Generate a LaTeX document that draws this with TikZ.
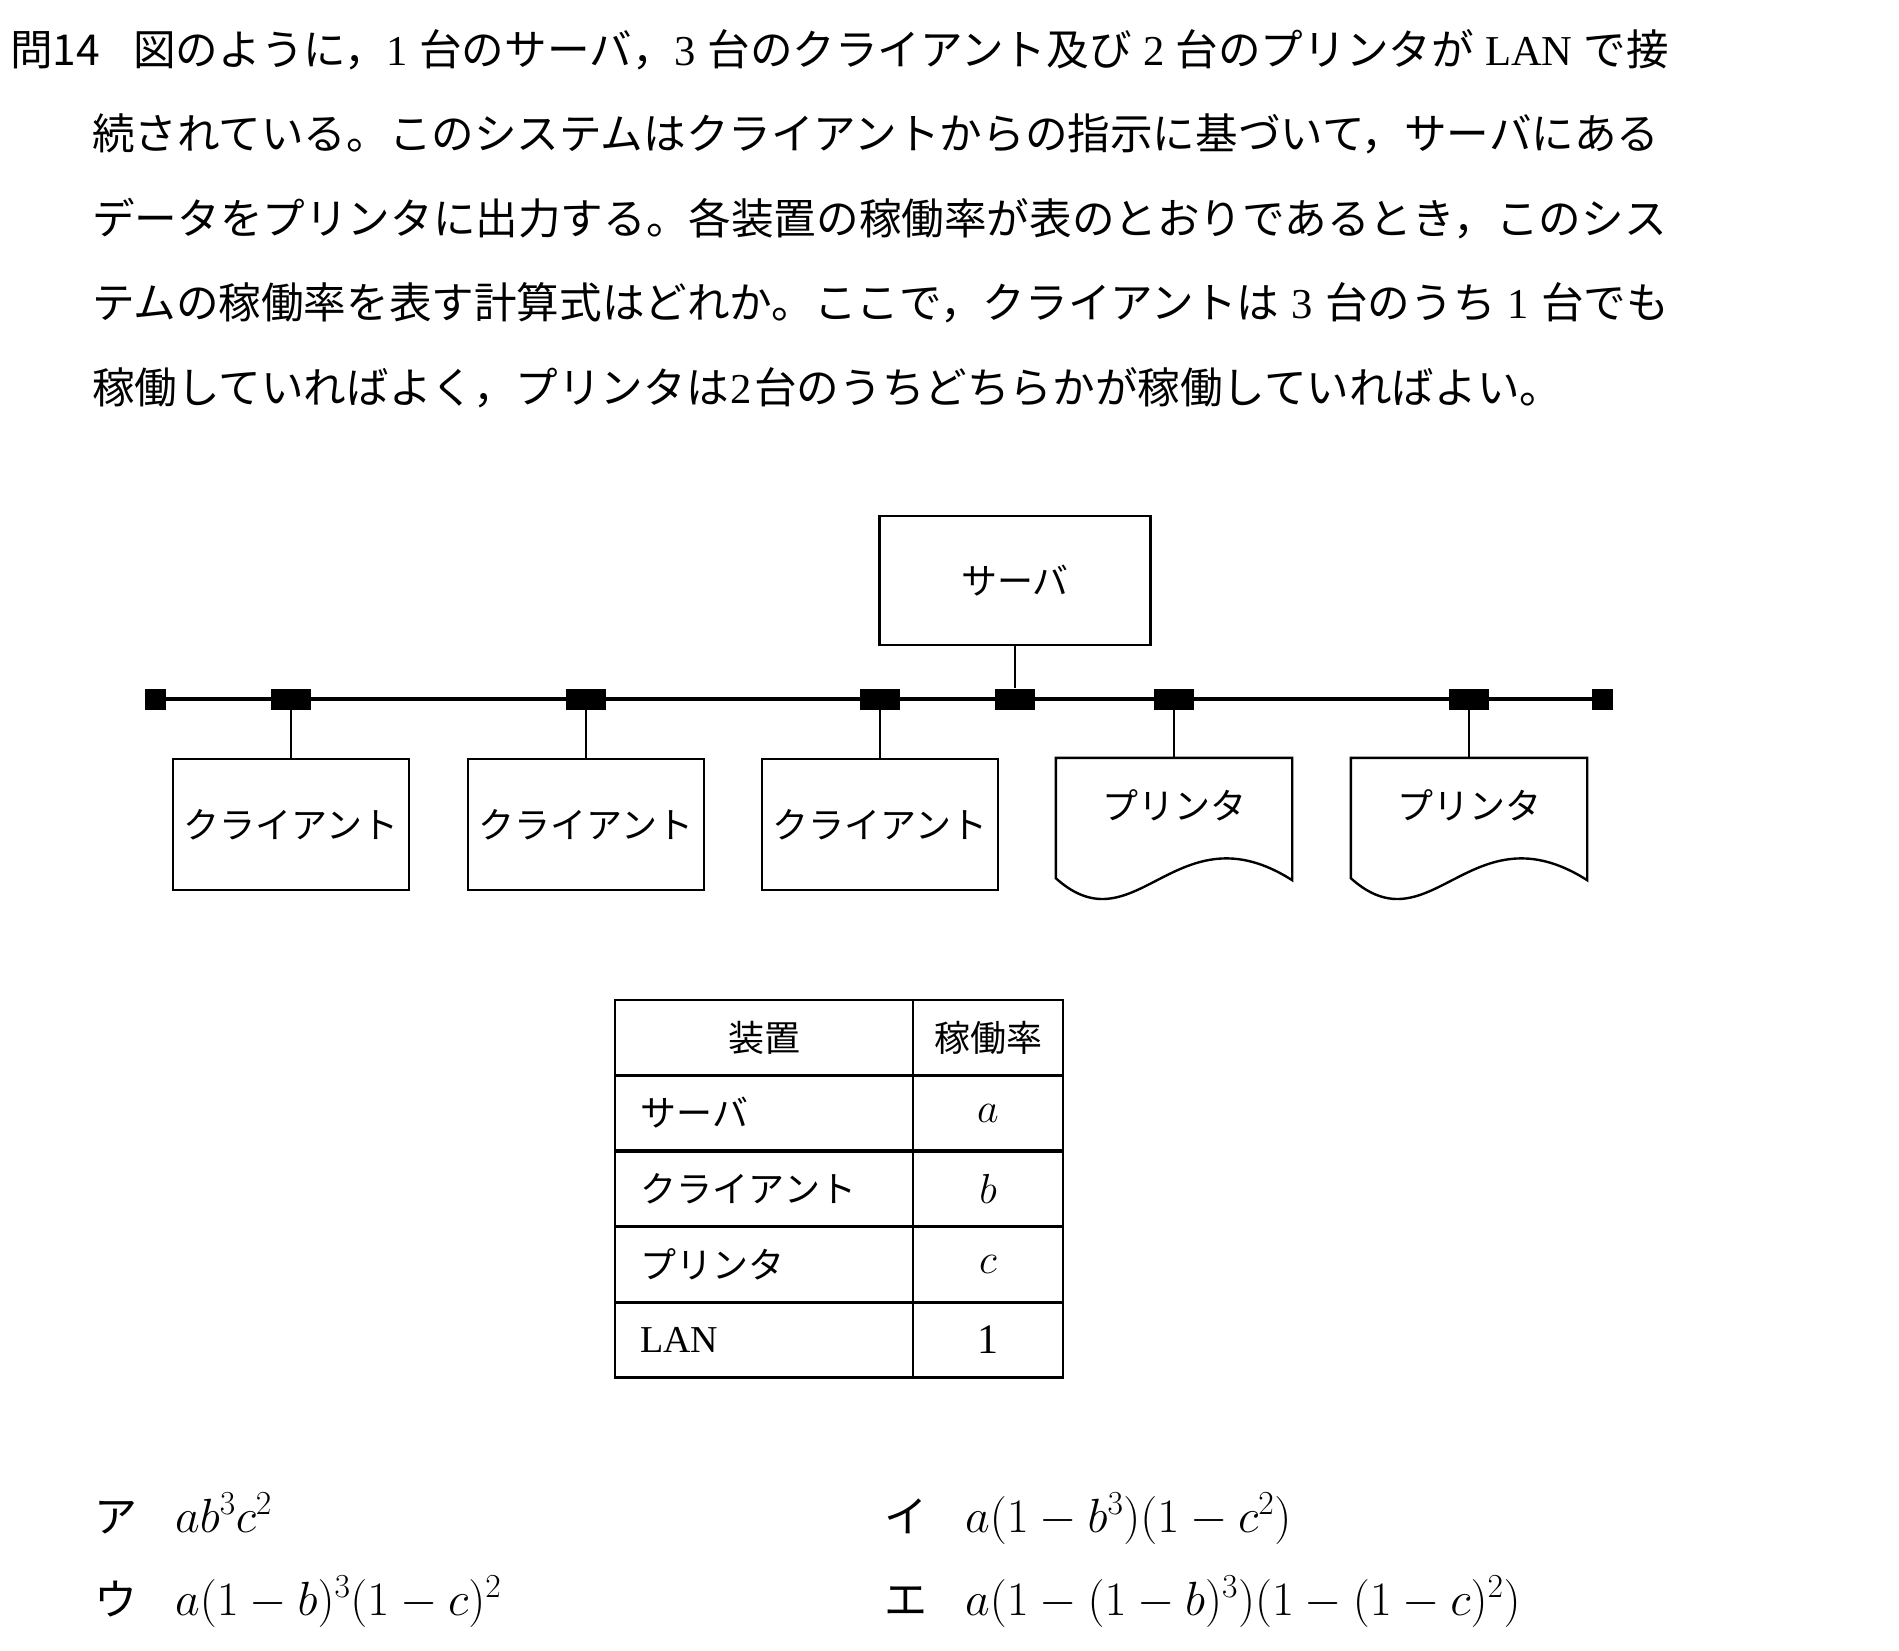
\RequirePackage{fix-cm}
\documentclass[tikz,border=0pt]{standalone}
\usepackage{fontspec}
\newfontfamily\jp{Noto Sans CJK JP}
\newfontfamily\lrf{Liberation Serif}
\XeTeXlinebreaklocale "ja"
\XeTeXlinebreakskip=0pt plus 1pt minus 0.5pt
\newcommand\lr[1]{{\lrf #1}}
\begin{document}
\begin{tikzpicture}[x=1pt,y=-1pt,
  txt/.style={inner sep=0pt, anchor=base west, font=\jp\fontsize{42.6}{50}\selectfont},
  lbl/.style={font=\jp\fontsize{36}{40}\selectfont},
  dev/.style={draw, line width=2.4pt, inner sep=0pt, minimum width=236pt, minimum height=131pt, lbl},
  prn/.style={inner sep=0pt, minimum width=236pt, minimum height=120pt},
  tap/.style={fill=black, inner sep=0pt, minimum width=40pt, minimum height=21pt},
  endcap/.style={fill=black, inner sep=0pt, minimum width=21pt, minimum height=21pt},
  bus/.style={line width=4pt},
  drop/.style={line width=2pt},
  outline/.style={line width=2.4pt, line join=miter},
  cell/.style={draw, line width=2.6pt, inner sep=0pt, minimum height=75.4pt, lbl},
  cellA/.style={cell, text width=248pt, inner xsep=25pt, align=left},
  cellB/.style={cell, minimum width=150pt, align=center, font=\fontsize{42}{48}\selectfont},
  ans/.style={inner sep=0pt, anchor=base west, font=\jp\fontsize{43}{50}\selectfont},
  frm/.style={inner sep=0pt, anchor=base west, font=\fontsize{48}{56}\selectfont}
]
\useasboundingbox (0,0) rectangle (1899,1650);
\fill[white] (0,0) rectangle (1899,1650);

% question text
\node[txt] (qn) at (10,65) {問14};
\node[txt] (l1) at (133,65) {\makebox[1536pt][s]{図のように，\lr{1} 台のサーバ，\lr{3} 台のクライアント及び \lr{2} 台のプリンタが \lr{LAN} で接}};
\node[txt] (l2) at (92,149) {\makebox[1577pt][s]{続されている。このシステムはクライアントからの指示に基づいて，サーバにある}};
\node[txt] (l3) at (92,234) {\makebox[1577pt][s]{データをプリンタに出力する。各装置の稼働率が表のとおりであるとき，このシス}};
\node[txt] (l4) at (92,318) {\makebox[1577pt][s]{テムの稼働率を表す計算式はどれか。ここで，クライアントは \lr{3} 台のうち \lr{1} 台でも}};
\node[txt] (l5) at (92,403) {\makebox[1462pt][s]{稼働していればよく，プリンタは\hspace{0.05em}\lr{2}\hspace{0.05em}台のうちどちらかが稼働していればよい。}};

% network
\node[endcap] (e1) at (155.5,699) {};
\node[endcap] (e2) at (1602.5,699) {};
\draw[bus] (e1.center) -- (e2.center);
\node[tap] (t1) at (291,699) {};
\node[tap] (t2) at (586,699) {};
\node[tap] (t3) at (880,699) {};
\node[tap] (t4) at (1015,699) {};
\node[tap] (t5) at (1174,699) {};
\node[tap] (t6) at (1469,699) {};

\node[dev, minimum width=271pt, minimum height=129pt] (srv) at (1015,580.5) {サーバ};
\node[dev] (c1) at (291,824.5) {クライアント};
\node[dev] (c2) at (586,824.5) {クライアント};
\node[dev] (c3) at (880,824.5) {クライアント};
\node[prn] (p1) at (1174,818) {};
\node[prn] (p2) at (1469,818) {};
\node[lbl] (p1t) at (1174,805) {プリンタ};
\node[lbl] (p2t) at (1469,805) {プリンタ};
\foreach \p in {p1,p2}{
  \draw[outline] (\p.south west) -- (\p.north west) -- (\p.north east) -- ([yshift=-2pt]\p.south east)
    .. controls ([xshift=-116pt,yshift=72pt]\p.south east) and ([xshift=80pt,yshift=-72pt]\p.south west) .. (\p.south west) -- cycle;
}
\draw[drop] (srv.south) -- (t4.north);
\draw[drop] (t1.south) -- (c1.north);
\draw[drop] (t2.south) -- (c2.north);
\draw[drop] (t3.south) -- (c3.north);
\draw[drop] (t5.south) -- (p1.north);
\draw[drop] (t6.south) -- (p2.north);

% table
\node[cell, minimum width=298pt, align=center] (h1) at (764,1037.5) {装置};
\node[cellB, lbl] (h2) at (988,1037.5) {稼働率};
\node[cellA] (r1a) at (764,1113) {サーバ};
\node[cellB] (r1b) at (988,1113) {$a$};
\node[cellA] (r2a) at (764,1189) {クライアント};
\node[cellB] (r2b) at (988,1189) {$b$};
\node[cellA] (r3a) at (764,1264.5) {プリンタ};
\node[cellB] (r3b) at (988,1264.5) {$c$};
\node[cellA] (r4a) at (764,1339.5) {\lr{\fontsize{38}{44}\selectfont LAN}};
\node[cellB] (r4b) at (988,1339.5) {\lr{1}};

% answers
\node[ans] (aA) at (94,1532) {ア};
\node[frm] (fA) at (175,1532) {$ab^3c^2$};
\node[ans] (aI) at (884,1532) {イ};
\node[frm] (fI) at (965,1532) {$a(1-b^3)(1-c^2)$};
\node[ans] (aU) at (94,1615) {ウ};
\node[frm] (fU) at (175,1615) {$a(1-b)^3(1-c)^2$};
\node[ans] (aE) at (884,1615) {エ};
\node[frm] (fE) at (965,1615) {$a(1-(1-b)^3)(1-(1-c)^2)$};
\end{tikzpicture}
\end{document}
